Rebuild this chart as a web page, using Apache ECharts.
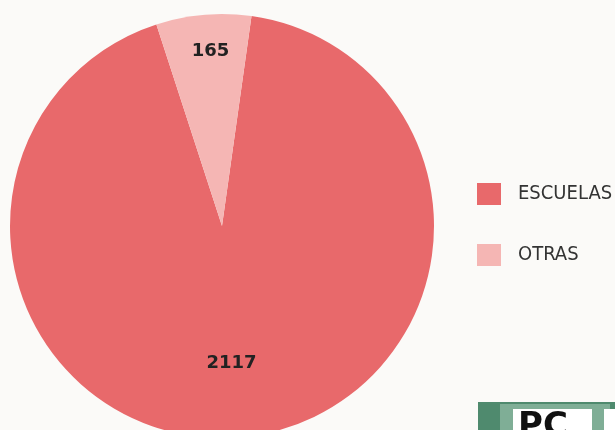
<!DOCTYPE html>
<html><head><meta charset="utf-8">
<script src="https://cdn.jsdelivr.net/npm/echarts@6/dist/echarts.min.js"></script>
<style>html,body{margin:0;padding:0;background:#FBFAF8;}#c{width:615px;height:430px;}</style>
</head><body><div id="c"></div>
<script>
const categories = ['ESCUELAS', 'OTRAS'];
const values = [2117, 165];
const colors = ['#E8696B', '#F5B6B4'];

const chart = echarts.init(document.getElementById('c'));
const labelOffsets = [[0, 29], [-2, -66]];
chart.setOption({
  backgroundColor: '#FBFAF8',
  animation: false,
  legend: {
    orient: 'vertical',
    left: 477, top: 183,
    itemWidth: 24, itemHeight: 22,
    itemGap: 39,
    icon: 'rect',
    padding: 0,
    textStyle: { fontFamily: "'Liberation Sans Narrow', 'DejaVu Sans Condensed', sans-serif", fontSize: 20, color: '#333', padding: [0, 0, 0, 12] },
    data: categories
  },
  series: [{
    type: 'pie',
    center: [222, 226],
    radius: 212,
    startAngle: 82,
    clockwise: true,
    label: { position: 'inside', fontFamily: 'DejaVu Sans', fontWeight: 'bold', fontSize: 18, color: '#222', formatter: '{c}' },
    labelLine: { show: false },
    labelLayout: function (p) { return { dx: labelOffsets[p.dataIndex][0], dy: labelOffsets[p.dataIndex][1] }; },
    itemStyle: { borderWidth: 0 },
    emphasis: { disabled: true },
    data: categories.map((n, i) => ({ name: n, value: values[i], itemStyle: { color: colors[i] } }))
  }],
  graphic: [
    { type: 'rect', shape: { x: 478, y: 402, width: 140, height: 30 }, style: { fill: '#4F8A6E' } },
    { type: 'rect', shape: { x: 500, y: 404, width: 110, height: 28 }, style: { fill: '#7FAE96' } },
    { type: 'rect', shape: { x: 513, y: 409, width: 79, height: 25 }, style: { fill: '#FFFFFF' } },
    { type: 'rect', shape: { x: 604, y: 409, width: 14, height: 25 }, style: { fill: '#FFFFFF' } },
    { type: 'text', x: 518, y: 410, style: { text: 'PC', fontFamily: 'DejaVu Sans', fontWeight: 'bold', fontSize: 34, fill: '#111' } }
  ]
});
</script></body></html>
